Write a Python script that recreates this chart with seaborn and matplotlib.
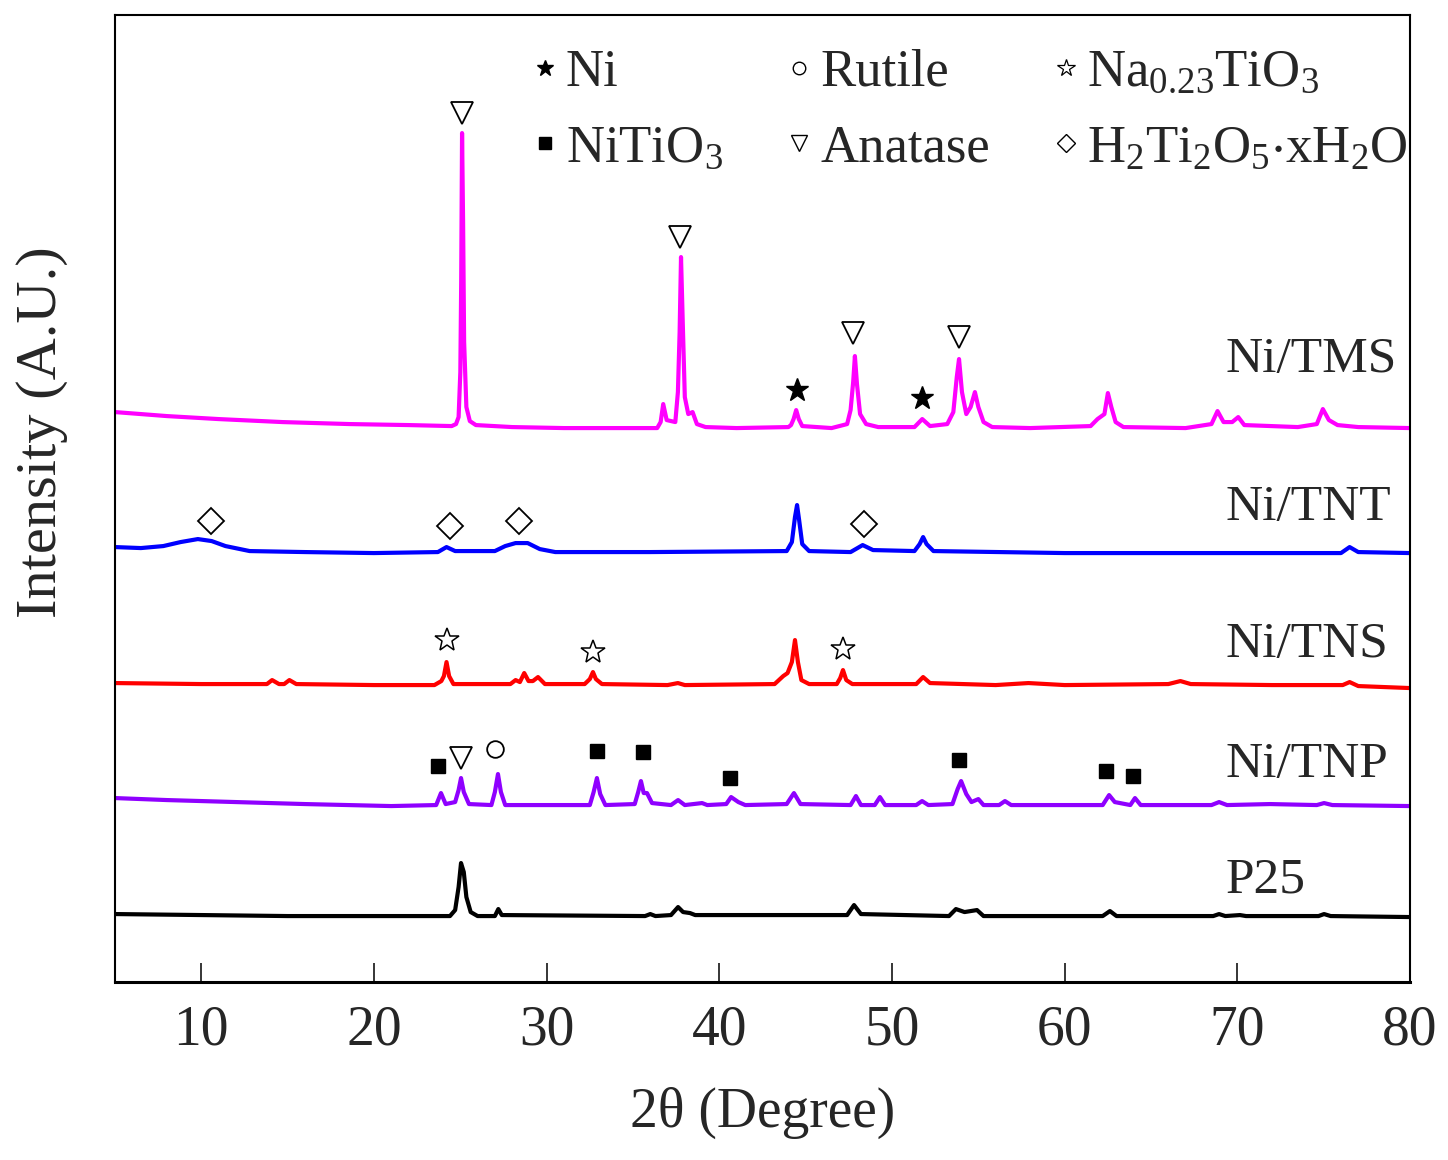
import numpy as np
import pandas as pd
import seaborn as sns
import matplotlib.pyplot as plt
from matplotlib.lines import Line2D

# XRD patterns (2theta in degrees, intensity in arbitrary units incl. stacking offset)
tms_x = [5.0, 8.0, 11.0, 14.7, 18.6, 22.0, 24.5,
         24.75, 24.9, 25.0, 25.05, 25.1, 25.16, 25.22, 25.35, 25.55, 25.9,
         28.0, 31.0, 34.0, 36.4, 36.6, 36.75, 36.95,
         37.45, 37.6, 37.7, 37.78, 37.88, 38.0, 38.2, 38.45, 38.7, 39.2,
         41.0, 44.0, 44.15, 44.3, 44.45, 44.6, 44.8,
         46.5, 47.4, 47.6, 47.75, 47.85, 47.97, 48.15, 48.5, 49.2,
         51.3, 51.75, 52.2, 53.2,
         53.55, 53.75, 53.88, 54.05, 54.3, 54.55, 54.8, 55.0, 55.3, 55.8,
         58.0, 61.5, 61.9, 62.3, 62.5, 62.7, 62.95, 63.4,
         67.0, 68.5, 68.85, 69.2, 69.7, 70.05, 70.4,
         73.5, 74.6, 74.95, 75.3, 75.8, 77.0, 80.0]
tms_y = [570, 566, 563, 560, 558, 557, 556,
         558, 565, 610, 700, 849, 760, 640, 575, 561, 557,
         555, 554, 554, 554, 560, 578, 562,
         560, 590, 650, 725, 660, 585, 568, 570, 558, 555,
         554, 555, 557, 563, 572, 563, 556,
         554, 558, 572, 600, 626, 598, 568, 558, 555,
         555, 563, 556, 558,
         570, 605, 623, 590, 568, 575, 590, 575, 560, 555,
         554, 556, 563, 568, 589, 575, 560, 555,
         554, 558, 571, 560, 560, 565, 557,
         555, 558, 573, 562, 557, 555, 554]

tnt_x = [5.0, 6.5, 7.8, 8.8, 9.8, 10.6, 11.4, 12.8, 16.0, 20.0, 23.7, 24.2, 24.7,
         27.0, 27.6, 28.2, 28.9, 29.6, 30.5, 36.0,
         43.9, 44.2, 44.38, 44.5, 44.62, 44.8, 45.2, 47.6, 48.3, 48.9,
         51.3, 51.6, 51.8, 52.0, 52.4, 60.0, 70.0, 76.0, 76.5, 77.0, 80.0]
tnt_y = [435, 434, 436, 440, 443, 441, 436, 431, 430, 429, 430, 435, 431,
         431, 436, 439, 439, 433, 430, 430,
         431, 440, 465, 477, 462, 438, 431, 430, 437, 432,
         431, 438, 445, 438, 431, 429, 429, 429, 435, 430, 429]

tns_x = [5.0, 10.0, 13.8, 14.1, 14.5, 14.8, 15.1, 15.5, 20.0,
         23.5, 23.9, 24.05, 24.2, 24.35, 24.6,
         27.9, 28.2, 28.45, 28.7, 28.95, 29.2, 29.5, 29.9,
         32.2, 32.5, 32.68, 32.85, 33.2, 37.0, 37.6, 38.0,
         43.2, 43.7, 43.95, 44.2, 44.38, 44.55, 44.75, 45.2,
         46.8, 47.0, 47.16, 47.35, 47.7, 51.4, 51.8, 52.2,
         56.0, 57.9, 60.0, 66.0, 66.7, 67.3, 72.0, 76.1, 76.5, 77.0, 80.0]
tns_y = [299, 298, 298, 302, 298, 298, 302, 298, 297,
         297, 301, 306, 320, 306, 298,
         298, 302, 300, 309, 301, 301, 305, 298,
         298, 303, 310, 303, 298, 297, 299, 297,
         298, 306, 309, 320, 342, 320, 302, 298,
         298, 304, 312, 302, 298, 298, 305, 299,
         297, 299, 297, 298, 301, 298, 297, 297, 300, 296, 294]

tnp_x = [5.0, 8.0, 12.0, 16.0, 21.0, 23.6, 23.88, 24.15,
         24.7, 24.9, 25.04, 25.2, 25.5, 26.8, 27.0, 27.18, 27.35, 27.6,
         32.5, 32.72, 32.91, 33.1, 33.4, 35.1, 35.3, 35.46, 35.62, 35.81, 36.1,
         37.2, 37.61, 38.0, 39.0, 39.3, 40.4, 40.68, 41.1, 41.5,
         43.9, 44.32, 44.7, 47.6, 47.91, 48.2, 49.0, 49.3, 49.6,
         51.4, 51.74, 52.1, 53.5, 53.8, 54.0, 54.3, 54.6, 55.0, 55.3,
         56.2, 56.54, 56.9, 62.2, 62.57, 62.9, 63.8, 64.07, 64.4,
         68.5, 68.94, 69.4, 71.89, 74.6, 75.02, 75.5, 80.0]
tnp_y = [184, 182, 180, 178, 176, 177, 189, 178,
         180, 192, 204, 190, 178, 177, 190, 208, 190, 177,
         177, 190, 204, 188, 177, 178, 190, 201, 189, 189, 179,
         177, 182, 177, 179, 177, 178, 185, 180, 177,
         178, 189, 178, 177, 186, 177, 177, 185, 177,
         177, 181, 177, 178, 193, 201, 188, 180, 183, 177,
         177, 181, 177, 177, 187, 180, 177, 184, 177,
         177, 180, 177, 178, 177, 179, 177, 176]

p25_x = [5.0, 10.0, 15.0, 20.0, 24.4, 24.7, 24.9, 25.04, 25.2, 25.35, 25.6, 26.0,
         27.0, 27.2, 27.4, 35.7, 36.0, 36.3, 37.2, 37.61, 37.9, 38.3, 38.6,
         47.4, 47.8, 48.2, 53.3, 53.7, 54.2, 54.92, 55.3, 62.2, 62.62, 63.0,
         68.6, 68.94, 69.3, 70.15, 70.5, 74.7, 75.02, 75.4, 80.0]
p25_y = [68, 67, 66, 66, 66, 72, 95, 119, 110, 85, 70, 66,
         66, 73, 67, 66, 68, 66, 67, 75, 70, 69, 67,
         67, 77, 68, 66, 73, 70, 72, 66, 66, 71, 66,
         66, 68, 66, 67, 66, 66, 68, 66, 65]

samples = ['Ni/TMS', 'Ni/TNT', 'Ni/TNS', 'Ni/TNP', 'P25']
colors = ['#ff00ff', '#0000ff', '#ff0000', '#8f00ff', '#000000']
label_y = [622, 474, 337, 217, 102]

# phase markers placed above the peaks
ni_pos = [(44.47, 592), (51.75, 584)]
anatase_pos = [(25.1, 869), (37.75, 745), (47.75, 649), (53.88, 645), (25.04, 224)]
rutile_pos = [(27.0, 233)]
nati_pos = [(24.23, 342), (32.68, 330), (47.16, 333)]
nitio_pos = [(23.71, 216), (32.91, 231), (35.58, 230), (40.6, 204),
             (53.85, 222), (62.4, 211), (63.96, 206)]
h2ti_pos = [(10.55, 461), (24.4, 456), (28.4, 461), (48.38, 458)]

frames = []
for name, xs, ys in zip(samples, [tms_x, tnt_x, tns_x, tnp_x, p25_x],
                        [tms_y, tnt_y, tns_y, tnp_y, p25_y]):
    frames.append(pd.DataFrame({'two_theta': xs, 'intensity': ys, 'sample': name}))
df = pd.concat(frames, ignore_index=True)

sns.set_style('white')
plt.rcParams['font.family'] = ['Liberation Serif', 'DejaVu Serif']
plt.rcParams['mathtext.fontset'] = 'custom'
plt.rcParams['mathtext.rm'] = 'Liberation Serif'
plt.rcParams['mathtext.default'] = 'regular'

fig = plt.figure(figsize=(14.48, 11.6), dpi=100)
ax = fig.add_axes([0.0794, 0.1534, 0.8944, 0.8336])

sns.lineplot(data=df, x='two_theta', y='intensity', hue='sample',
             palette=dict(zip(samples, colors)), sort=False, estimator=None,
             linewidth=3.0, legend=False, ax=ax)

mk = dict(linestyle='none', color='black', zorder=5)
ax.plot(*zip(*ni_pos), marker='*', markersize=17, markerfacecolor='black', **mk)
ax.plot(*zip(*anatase_pos), marker='v', markersize=16, markerfacecolor='white',
        markeredgewidth=1.3, **mk)
ax.plot(*zip(*rutile_pos), marker='o', markersize=12, markerfacecolor='white',
        markeredgewidth=1.3, **mk)
ax.plot(*zip(*nati_pos), marker='*', markersize=18, markerfacecolor='white',
        markeredgewidth=1.1, **mk)
ax.plot(*zip(*nitio_pos), marker='s', markersize=10, markerfacecolor='black', **mk)
ax.plot(*zip(*h2ti_pos), marker='D', markersize=13, markerfacecolor='white',
        markeredgewidth=1.3, **mk)

for name, yv in zip(samples, label_y):
    ax.text(69.3, yv, name, fontsize=37, ha='left', va='center')

# phase legend, filled column-wise in 3 columns
handles = [
    Line2D([], [], linestyle='none', marker='*', markersize=12, color='black'),
    Line2D([], [], linestyle='none', marker='s', markersize=8, color='black'),
    Line2D([], [], linestyle='none', marker='o', markersize=9, color='black',
           markerfacecolor='white', markeredgewidth=1.0),
    Line2D([], [], linestyle='none', marker='v', markersize=11, color='black',
           markerfacecolor='white', markeredgewidth=1.0),
    Line2D([], [], linestyle='none', marker='*', markersize=13, color='black',
           markerfacecolor='white', markeredgewidth=0.9),
    Line2D([], [], linestyle='none', marker='D', markersize=9, color='black',
           markerfacecolor='white', markeredgewidth=1.0),
]
labels = ['Ni', r'NiTiO$_3$', 'Rutile', 'Anatase',
          r'Na$_{0.23}$TiO$_3$', r'H$_2$Ti$_2$O$_5$$\cdot$xH$_2$O']
ax.legend(handles, labels, ncol=3, loc='upper left', frameon=False,
          bbox_to_anchor=(529 / 1448, 1 - 49 / 1160), bbox_transform=fig.transFigure,
          fontsize=38, handlelength=0.6, handletextpad=0.1, columnspacing=1.14,
          labelspacing=0.52, borderpad=0, borderaxespad=0)

ax.set_xlim(5, 80)
ax.set_ylim(0, 967)
ax.set_xticks(range(10, 81, 10))
ax.set_yticks([])
ax.tick_params(axis='x', direction='in', length=14, width=1.3, pad=16,
               labelsize=40, bottom=True, top=False)
for side in ['left', 'right', 'top']:
    ax.spines[side].set_linewidth(1.5)
ax.spines['bottom'].set_linewidth(2.2)
for s in ax.spines.values():
    s.set_color('black')

ax.set_xlabel('2θ (Degree)', fontsize=40, labelpad=22)
ax.set_ylabel('Intensity (A.U.)', fontsize=42)
ax.yaxis.set_label_coords(-0.036, 0.569)

fig.savefig('out.png', dpi=100)
